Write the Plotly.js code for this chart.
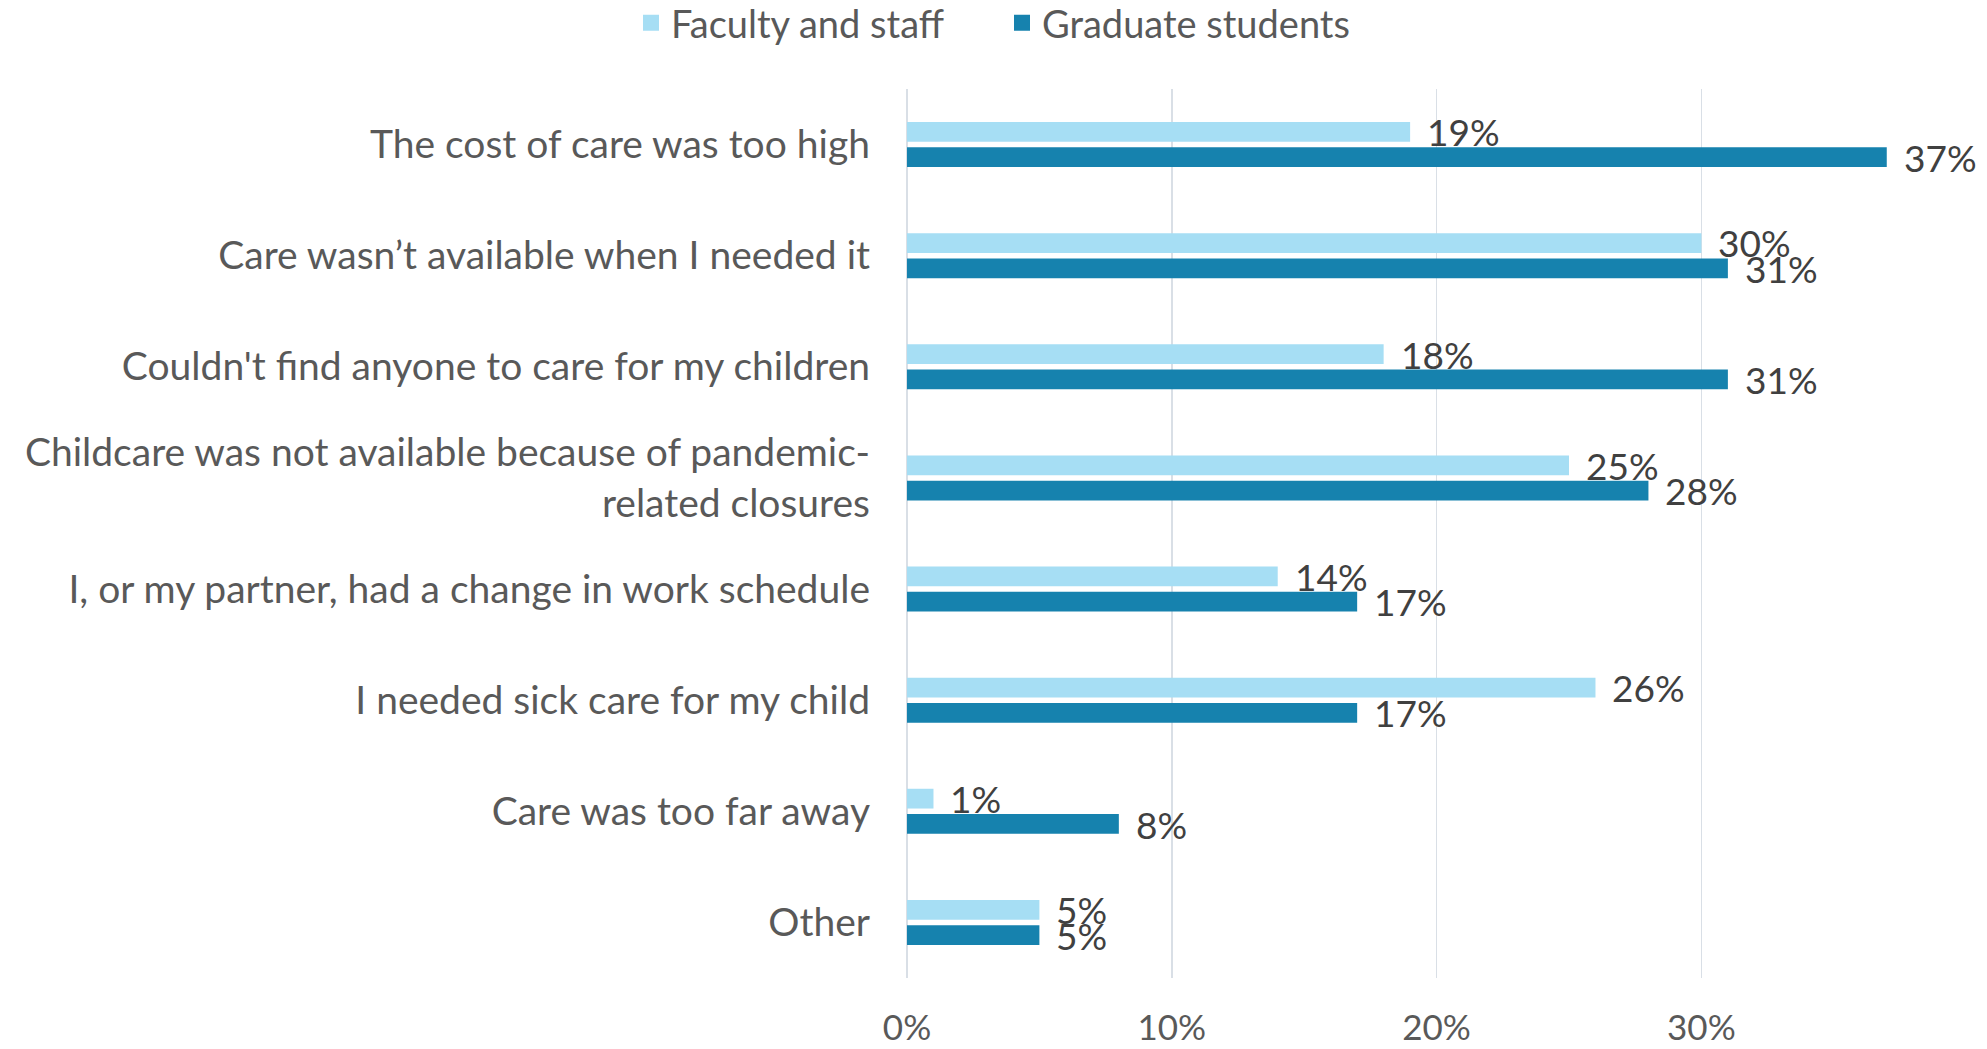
<!DOCTYPE html>
<html>
<head>
<meta charset="utf-8">
<script src="https://cdn.plot.ly/plotly-3.0.1.min.js"></script>
<style>
  html, body { margin: 0; padding: 0; background: #ffffff; }
  #chart { width: 1987px; height: 1049px; }
</style>
</head>
<body>
<div id="chart"></div>
<script>
// ---- Data ----
const categories = [
  "The cost of care was too high",
  "Care wasn’t available when I needed it",
  "Couldn't find anyone to care for my children",
  "Childcare was not available because of pandemic-<br>related closures",
  "I, or my partner, had a change in work schedule",
  "I needed sick care for my child",
  "Care was too far away",
  "Other"
];
const seriesNames = ["Faculty and staff", "Graduate students"];
const facultyValues = [0.19, 0.30, 0.18, 0.25, 0.14, 0.26, 0.01, 0.05];
const gradValues    = [0.37, 0.31, 0.31, 0.28, 0.17, 0.17, 0.08, 0.05];
const xTickValues = [0, 0.1, 0.2, 0.3];
const xTickLabels = ["0%", "10%", "20%", "30%"];

// ---- Styles ----
const FONT = "Lato, 'Open Sans', sans-serif";
const W = 400;
const lightColor = "#A6DEF4";
const darkColor = "#1682AE";
const gridColor = "#D9DFE6";
const textColor = "#595959";
const labelColor = "#404040";

const traces = [
  {
    type: "bar", orientation: "h", name: seriesNames[0], legend: "legend",
    y: categories, x: facultyValues,
    marker: { color: lightColor, line: { width: 0 } },
    hoverinfo: "skip"
  },
  {
    type: "bar", orientation: "h", name: seriesNames[1], legend: "legend2",
    y: categories, x: gradValues,
    marker: { color: darkColor, line: { width: 0 } },
    hoverinfo: "skip"
  }
];

const annotations = [];
const OFF = 12.7;
function addLabels(vals, shift) {
  vals.forEach((v, i) => {
    annotations.push({
      x: v, y: categories[i], xref: "x", yref: "y",
      text: Math.round(v * 100) + "%", showarrow: false,
      xanchor: "left", yanchor: "middle", xshift: 15, yshift: shift,
      font: { family: FONT, size: 37, color: labelColor, weight: W }
    });
  });
}
addLabels(facultyValues, OFF);
addLabels(gradValues, -OFF);

function legendAt(xpx) {
  return {
    orientation: "h",
    xref: "container", yref: "container",
    x: xpx / 1987, xanchor: "left",
    y: 1 - 23 / 1049, yanchor: "middle",
    font: { family: FONT, size: 38, color: textColor, weight: W },
    itemclick: false, itemdoubleclick: false
  };
}

const layout = {
  width: 1987, height: 1049,
  paper_bgcolor: "#ffffff", plot_bgcolor: "#ffffff",
  margin: { l: 907, r: 87, t: 89, b: 71, pad: 0 },
  font: { family: FONT, color: textColor, weight: W },
  barmode: "group",
  bargap: 0.544,
  bargroupgap: 0.22,
  showlegend: true,
  legend: legendAt(631),
  legend2: legendAt(1002),
  xaxis: {
    range: [0, 0.375],
    tickvals: xTickValues, ticktext: xTickLabels,
    showgrid: true, gridcolor: gridColor, gridwidth: 1.5,
    zeroline: true, zerolinecolor: gridColor, zerolinewidth: 1.5,
    showline: false, ticks: "",
    ticklabelstandoff: 26,
    tickfont: { family: FONT, size: 35, color: textColor, weight: W },
    fixedrange: true
  },
  yaxis: {
    autorange: "reversed",
    type: "category",
    showgrid: false, zeroline: false, showline: false, ticks: "",
    ticklabelstandoff: 36,
    tickfont: { family: FONT, size: 39, color: textColor, weight: W },
    fixedrange: true
  },
  annotations: annotations
};

// Make the legend swatches larger squares (16px) like the reference
function enlargeLegendSymbols() {
  document.querySelectorAll("#chart .legendpoints path").forEach(p => {
    p.setAttribute("d", "M8,8H-8V-8H8Z");
    p.style.strokeWidth = "0px";
  });
}

Plotly.newPlot("chart", traces, layout, { staticPlot: true, displayModeBar: false })
  .then(gd => { enlargeLegendSymbols(); gd.on("plotly_afterplot", enlargeLegendSymbols); });
</script>
</body>
</html>
